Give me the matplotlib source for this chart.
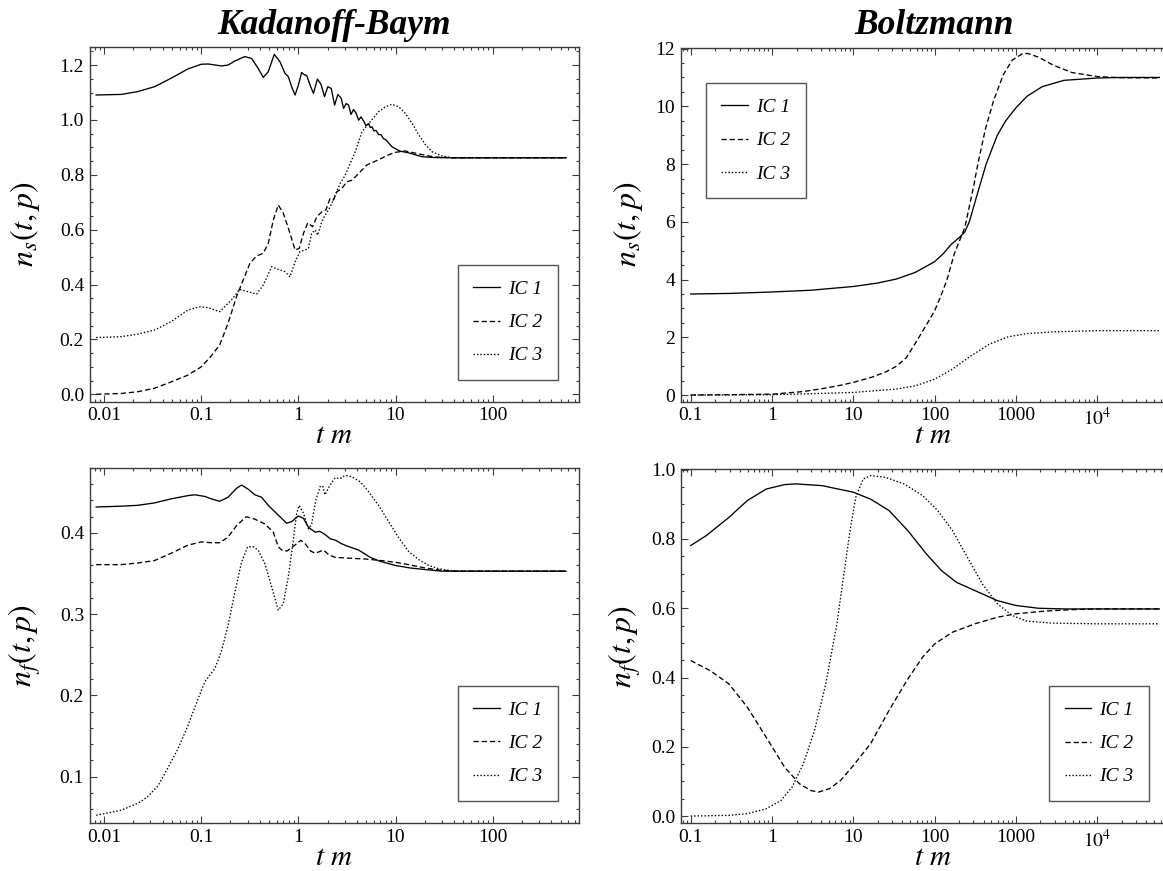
"""
Occupation numbers n_s(t,p) and n_f(t,p) for three initial conditions:
Kadanoff-Baym (left) vs. Boltzmann (right), log time axis.
"""

import matplotlib
matplotlib.use("Agg")
import matplotlib.pyplot as plt
from matplotlib.ticker import FixedLocator, LogLocator, MultipleLocator, NullFormatter

plt.rcParams["font.family"] = ["Liberation Serif", "DejaVu Serif"]
plt.rcParams["mathtext.fontset"] = "stix"

# --- data (t m, value) ---------------------------------------------------------
# Kadanoff-Baym, n_s
kb_s1_t = [0.0083, 0.015, 0.022, 0.033, 0.049, 0.073, 0.100, 0.118, 0.161, 0.189,
           0.222, 0.281, 0.330, 0.386, 0.435, 0.490, 0.565, 0.647, 0.728, 0.79,
           0.853, 0.925, 1.0, 1.08, 1.15, 1.22, 1.32, 1.43, 1.57, 1.71, 1.86, 2.01,
           2.18, 2.36, 2.55, 2.76, 2.92, 3.11, 3.29, 3.48, 3.70, 3.94, 4.17, 4.41,
           4.70, 4.96, 5.29, 5.5, 5.73, 6.0, 6.3, 6.7, 7.1, 7.5, 8.0, 9.2, 11.2,
           13.7, 18.7, 25, 40, 570]
kb_s1_v = [1.091, 1.093, 1.103, 1.121, 1.152, 1.186, 1.203, 1.204, 1.197, 1.200,
           1.215, 1.231, 1.224, 1.188, 1.155, 1.176, 1.239, 1.212, 1.170, 1.157,
           1.121, 1.091, 1.127, 1.173, 1.165, 1.162, 1.127, 1.097, 1.149, 1.130,
           1.085, 1.121, 1.115, 1.054, 1.093, 1.079, 1.042, 1.060, 1.054, 1.020,
           1.038, 1.024, 0.999, 1.011, 0.996, 0.979, 0.987, 0.972, 0.975, 0.960,
           0.962, 0.947, 0.946, 0.932, 0.927, 0.902, 0.886, 0.880, 0.866, 0.863,
           0.862, 0.862]

kb_s2_t = [0.0083, 0.015, 0.022, 0.033, 0.049, 0.073, 0.100, 0.127, 0.155, 0.189,
           0.231, 0.270, 0.317, 0.371, 0.435, 0.49, 0.552, 0.621, 0.70, 0.82,
           0.925, 1.02, 1.13, 1.25, 1.40, 1.55, 1.74, 1.92, 2.12, 2.30, 2.49, 2.80,
           3.16, 3.56, 4.17, 5.08, 6.7, 8.5, 10, 12.6, 17.4, 25, 40, 570]
kb_s2_v = [0.0, 0.003, 0.009, 0.022, 0.045, 0.07, 0.10, 0.14, 0.180, 0.259,
           0.356, 0.416, 0.477, 0.504, 0.514, 0.550, 0.635, 0.690, 0.660, 0.587,
           0.526, 0.532, 0.587, 0.625, 0.611, 0.647, 0.665, 0.672, 0.714, 0.708,
           0.738, 0.750, 0.775, 0.780, 0.805, 0.836, 0.855, 0.873, 0.882, 0.887,
           0.876, 0.865, 0.862, 0.862]

kb_s3_t = [0.0083, 0.015, 0.022, 0.033, 0.049, 0.073, 0.096, 0.118, 0.155, 0.205,
           0.249, 0.304, 0.371, 0.435, 0.531, 0.621, 0.728, 0.82, 0.925, 1.04,
           1.17, 1.27, 1.37, 1.49, 1.58, 1.74, 1.88, 2.04, 2.21, 2.39, 2.70, 3.04,
           3.42, 3.85, 4.51, 5.7, 6.7, 7.86, 9.2, 10.8, 12.6, 14.8, 17.4, 20.4,
           23.8, 30, 38, 570]
kb_s3_v = [0.207, 0.210, 0.219, 0.234, 0.265, 0.307, 0.319, 0.316, 0.301, 0.344,
           0.382, 0.374, 0.365, 0.398, 0.465, 0.455, 0.447, 0.428, 0.483, 0.520,
           0.526, 0.532, 0.587, 0.599, 0.580, 0.629, 0.653, 0.672, 0.696, 0.726,
           0.769, 0.799, 0.842, 0.884, 0.957, 1.000, 1.030, 1.048, 1.057, 1.048,
           1.024, 0.988, 0.945, 0.909, 0.884, 0.869, 0.862, 0.862]

# Kadanoff-Baym, n_f
kb_f1_t = [0.0083, 0.015, 0.022, 0.033, 0.049, 0.073, 0.086, 0.109, 0.127, 0.155,
           0.189, 0.231, 0.260, 0.304, 0.357, 0.418, 0.49, 0.621, 0.758, 0.853,
           1.0, 1.13, 1.27, 1.49, 1.67, 1.89, 2.12, 2.43, 2.76, 3.16, 4.17, 5.5,
           7.0, 10, 14, 20, 30, 570]
kb_f1_v = [0.432, 0.433, 0.434, 0.437, 0.442, 0.446, 0.447, 0.445, 0.442, 0.439,
           0.444, 0.455, 0.459, 0.454, 0.447, 0.444, 0.434, 0.422, 0.412, 0.414,
           0.421, 0.418, 0.407, 0.401, 0.402, 0.398, 0.393, 0.391, 0.387, 0.384,
           0.379, 0.370, 0.365, 0.360, 0.357, 0.355, 0.353, 0.353]

kb_f2_t = [0.0083, 0.015, 0.022, 0.033, 0.049, 0.073, 0.100, 0.127, 0.155, 0.189,
           0.231, 0.29, 0.357, 0.453, 0.552, 0.621, 0.69, 0.77, 0.92, 1.06, 1.17,
           1.33, 1.49, 1.81, 2.07, 2.39, 3.28, 4.86, 7.2, 9.9, 13.7, 20, 30, 45, 570]
kb_f2_v = [0.361, 0.361, 0.363, 0.366, 0.375, 0.385, 0.389, 0.388, 0.388, 0.395,
           0.409, 0.420, 0.417, 0.411, 0.401, 0.383, 0.378, 0.378, 0.385, 0.391,
           0.387, 0.378, 0.375, 0.379, 0.373, 0.370, 0.369, 0.368, 0.366, 0.364,
           0.361, 0.357, 0.354, 0.353, 0.353]

kb_f3_t = [0.0083, 0.015, 0.022, 0.028, 0.036, 0.045, 0.058, 0.073, 0.093, 0.109,
           0.138, 0.161, 0.189, 0.222, 0.260, 0.300, 0.343, 0.386, 0.453, 0.53,
           0.621, 0.70, 0.788, 0.887, 0.96, 1.02, 1.13, 1.27, 1.37, 1.51, 1.67,
           1.78, 1.88, 2.12, 2.39, 2.69, 3.03, 3.56, 4.33, 5.28, 6.7, 8.5, 10.8,
           13.7, 17.4, 22, 28, 35, 45, 570]
kb_f3_v = [0.0525, 0.0587, 0.067, 0.075, 0.089, 0.110, 0.135, 0.163, 0.196, 0.217,
           0.233, 0.254, 0.286, 0.327, 0.364, 0.383, 0.383, 0.379, 0.362, 0.334,
           0.305, 0.313, 0.346, 0.391, 0.424, 0.434, 0.424, 0.405, 0.411, 0.440,
           0.457, 0.458, 0.447, 0.459, 0.468, 0.467, 0.471, 0.469, 0.463, 0.451,
           0.434, 0.414, 0.394, 0.377, 0.367, 0.360, 0.356, 0.354, 0.353, 0.353]

# Boltzmann, n_s
bz_s1_t = [0.1, 0.3, 1, 3, 10, 20, 34, 58, 100, 128, 160, 200, 235, 267, 330, 430,
           590, 750, 1000, 1370, 2100, 3900, 1e4, 2e4, 5.8e4]
bz_s1_v = [3.50, 3.52, 3.57, 3.63, 3.76, 3.88, 4.02, 4.25, 4.62, 4.90, 5.22, 5.45,
           5.65, 6.0, 6.9, 8.0, 9.0, 9.5, 9.95, 10.35, 10.68, 10.90, 10.98, 11.0, 11.0]

bz_s2_t = [0.1, 1, 2.4, 4.1, 7, 10, 17, 25, 34, 45, 61, 80, 100, 120, 142, 175,
           235, 300, 340, 420, 531, 700, 900, 1200, 1400, 1900, 2900, 4900, 1e4,
           2e4, 5.8e4]
bz_s2_v = [0.0, 0.03, 0.12, 0.22, 0.34, 0.44, 0.62, 0.80, 1.0, 1.3, 1.9, 2.45,
           2.92, 3.45, 4.0, 4.9, 5.8, 7.2, 8.0, 9.2, 10.2, 11.1, 11.6, 11.82, 11.83,
           11.7, 11.42, 11.17, 11.03, 10.99, 10.98]

bz_s3_t = [0.1, 1, 10, 34, 58, 100, 166, 280, 477, 810, 1370, 2900, 1e4, 5.8e4]
bz_s3_v = [0.0, 0.01, 0.09, 0.21, 0.32, 0.55, 0.90, 1.36, 1.77, 2.02, 2.13, 2.19,
           2.23, 2.23]

# Boltzmann, n_f
bz_f1_t = [0.1, 0.156, 0.294, 0.498, 0.845, 1.43, 1.97, 4.12, 10, 16.3, 27.5, 46.8,
           79, 121, 185, 313, 590, 1000, 1883, 3945, 1e4, 5.8e4]
bz_f1_v = [0.781, 0.810, 0.862, 0.911, 0.944, 0.957, 0.959, 0.954, 0.935, 0.915,
           0.882, 0.824, 0.757, 0.709, 0.675, 0.651, 0.622, 0.608, 0.600, 0.598,
           0.598, 0.598]

bz_f2_t = [0.1, 0.173, 0.294, 0.498, 0.845, 1.43, 2.18, 3.0, 3.7, 5.08, 6.98, 10,
           16.3, 27.5, 46.8, 71.3, 100, 166, 313, 590, 1000, 2328, 5000, 1e4, 5.8e4]
bz_f2_v = [0.449, 0.420, 0.382, 0.314, 0.228, 0.141, 0.093, 0.074, 0.069, 0.079,
           0.103, 0.146, 0.209, 0.305, 0.396, 0.459, 0.497, 0.531, 0.555, 0.574,
           0.584, 0.592, 0.596, 0.598, 0.598]

bz_f3_t = [0.1, 0.294, 0.498, 0.845, 1.29, 1.77, 2.43, 3.33, 4.58, 6.28, 7.76, 9.1,
           10.7, 13.2, 16.3, 24.8, 42, 71.3, 109, 166, 253, 387, 590, 900, 1374,
           2875, 1e4, 5.8e4]
bz_f3_v = [0.0, 0.002, 0.007, 0.021, 0.045, 0.084, 0.151, 0.247, 0.382, 0.555,
           0.709, 0.824, 0.920, 0.973, 0.983, 0.978, 0.959, 0.925, 0.882, 0.824,
           0.747, 0.670, 0.613, 0.579, 0.5625, 0.557, 0.555, 0.555]

ic_labels = ["IC 1", "IC 2", "IC 3"]
kb_xticks = [0.01, 0.1, 1, 10, 100]
kb_xlabels = ["0.01", "0.1", "1", "10", "100"]
bz_xticks = [0.1, 1, 10, 100, 1000, 1e4]
bz_xlabels = ["0.1", "1", "10", "100", "1000", r"$10^4$"]

# --- styling --------------------------------------------------------------------
FRAME = "#3c3c3c"
styles = [dict(ls="-"), dict(ls=(0, (4, 2.2))), dict(ls=(0, (1.1, 1.5)))]

W, H = 1163, 871
fig = plt.figure(figsize=(W / 100, H / 100), dpi=100)


def px_axes(x0, y0, x1, y1):
    return fig.add_axes([x0 / W, 1 - y1 / H, (x1 - x0) / W, (y1 - y0) / H])


ax_ks = px_axes(89.6, 46.7, 578.8, 401.7)
ax_bs = px_axes(680.7, 47.7, 1185, 401.7)
ax_kf = px_axes(89.6, 468, 578.8, 823)
ax_bf = px_axes(680.7, 469, 1185, 823)


def draw(ax, series, xlim, ylim, xticks, xlabels, ymajor, yminor, yfmt,
         ylabel, ylabel_x, leg_loc, leg_anchor):
    lines = []
    for (t, v), st, lab in zip(series, styles, ic_labels):
        ln, = ax.plot(t, v, color="black", lw=0.95, label=lab, **st)
        lines.append(ln)
    ax.set_xscale("log")
    ax.set_xlim(*xlim)
    ax.set_ylim(*ylim)
    ax.xaxis.set_major_locator(FixedLocator(xticks))
    ax.set_xticklabels(xlabels)
    ax.xaxis.set_minor_locator(LogLocator(base=10, subs=range(2, 10), numticks=30))
    ax.xaxis.set_minor_formatter(NullFormatter())
    ax.yaxis.set_major_locator(MultipleLocator(ymajor))
    ax.yaxis.set_minor_locator(MultipleLocator(yminor))
    ax.yaxis.set_major_formatter(yfmt)
    ax.tick_params(which="both", direction="in", top=True, right=True,
                   color=FRAME, width=0.8, labelsize=14, pad=4)
    ax.tick_params(which="major", length=5)
    ax.tick_params(which="minor", length=2.5)
    for sp in ax.spines.values():
        sp.set_color(FRAME)
        sp.set_linewidth(1.0)
    ax.text(ylabel_x, 0.5, ylabel, transform=ax.transAxes, rotation=90,
            ha="center", va="center", fontsize=23)
    ax.text(0.5, -0.098, r"$t\ m$", transform=ax.transAxes,
            ha="center", va="center", fontsize=21)
    leg = ax.legend(handles=lines, loc=leg_loc, bbox_to_anchor=leg_anchor,
                    borderaxespad=0, fancybox=False, framealpha=1,
                    edgecolor="#555555", handlelength=1.35, handletextpad=0.45,
                    labelspacing=0.8, borderpad=0.8,
                    prop=dict(family="Liberation Serif", style="italic", size=14))
    leg.get_frame().set_linewidth(1.0)


draw(ax_ks, [(kb_s1_t, kb_s1_v), (kb_s2_t, kb_s2_v), (kb_s3_t, kb_s3_v)],
     (0.0071, 770), (-0.027, 1.267), kb_xticks, kb_xlabels, 0.2, 0.05,
     lambda v, p: f"{v:.1f}", r"$n_s(t,p)$", -0.132, "lower right", (0.9575, 0.061))
draw(ax_kf, [(kb_f1_t, kb_f1_v), (kb_f2_t, kb_f2_v), (kb_f3_t, kb_f3_v)],
     (0.0071, 770), (0.043, 0.48), kb_xticks, kb_xlabels, 0.1, 0.02,
     lambda v, p: f"{v:.1f}", r"$n_f(t,p)$", -0.132, "lower right", (0.9575, 0.062))
draw(ax_bs, [(bz_s1_t, bz_s1_v), (bz_s2_t, bz_s2_v), (bz_s3_t, bz_s3_v)],
     (0.0753, 1.2e5), (-0.23, 12.03), bz_xticks, bz_xlabels, 2, 0.5,
     lambda v, p: f"{v:.0f}", r"$n_s(t,p)$", -0.105, "upper left", (0.050, 0.900))
draw(ax_bf, [(bz_f1_t, bz_f1_v), (bz_f2_t, bz_f2_v), (bz_f3_t, bz_f3_v)],
     (0.0753, 1.2e5), (-0.02, 1.002), bz_xticks, bz_xlabels, 0.2, 0.05,
     lambda v, p: f"{v:.1f}", r"$n_f(t,p)$", -0.11, "lower right", (0.929, 0.062))

fig.text(334.2 / W, 1 - 26 / H, "Kadanoff-Baym", ha="center", va="center",
         fontsize=25.5, fontweight="bold", fontstyle="italic")
fig.text(934 / W, 1 - 26 / H, "Boltzmann", ha="center", va="center",
         fontsize=25.5, fontweight="bold", fontstyle="italic")

fig.savefig("out.png", dpi=100)
